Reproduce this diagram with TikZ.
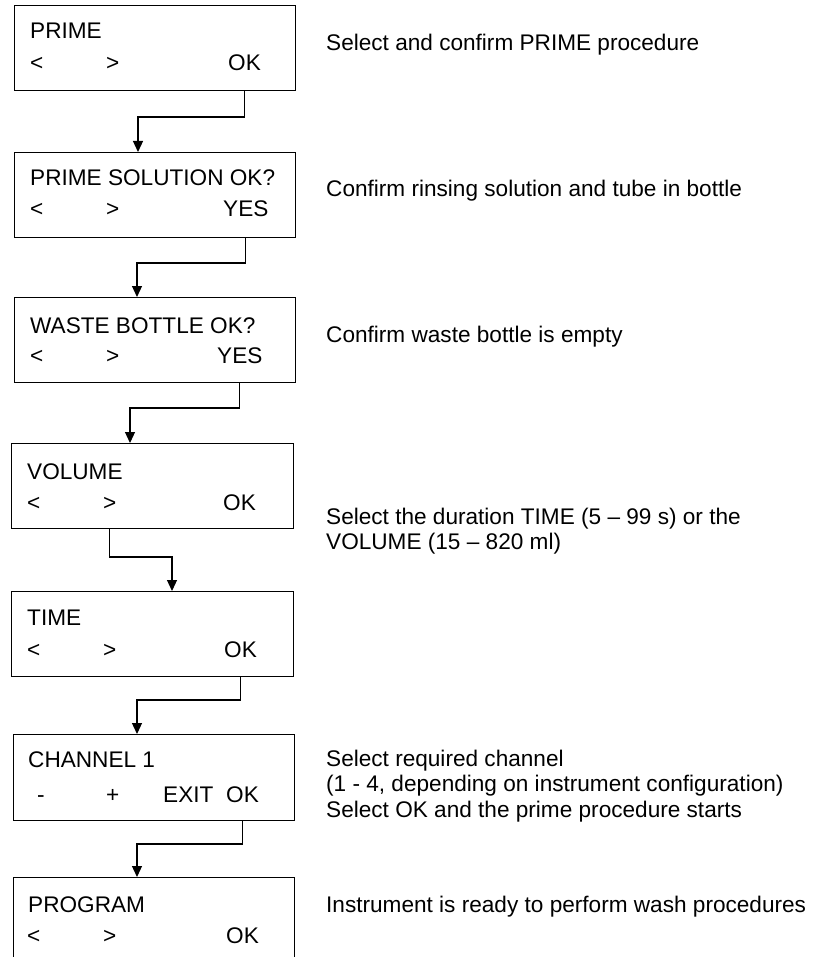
\documentclass[tikz,border=0pt]{standalone}
\usepackage{fontspec}
\setmainfont{Liberation Sans}
\usetikzlibrary{arrows.meta}

\begin{document}
\begin{tikzpicture}[x=1pt, y=-1pt,
  every node/.style={font=\fontsize{22.6}{25.5}\selectfont, inner sep=0pt},
  screen/.style={draw, line width=1.2pt, anchor=north west,
                 minimum width=281pt, minimum height=85pt},
  key/.style={anchor=base west},
  note/.style={anchor=base west},
  flow/.style={-{Triangle[length=11pt,width=10pt]}, line width=1.2pt}]
  \useasboundingbox (0,0) rectangle (814,957);
  % PRIME screen
  \node[screen] (s1) at (14,5) {};
  \node[key] (t1) at (30,39) {PRIME};
  \node[key] (lt1) at (30,71) {<};
  \node[key] (gt1) at (106,71) {>};
  \node[key] (ok1) at (228,71) {OK};
  \node[note] (n1) at (326,51) {Select and confirm PRIME procedure};
  % solution check
  \node[screen] (s2) at (14,152) {};
  \node[key] (t2) at (30,186) {PRIME SOLUTION OK?};
  \node[key] (lt2) at (30,217) {<};
  \node[key] (gt2) at (106,217) {>};
  \node[key] (yes2) at (223,217) {YES};
  \node[note] (n2) at (326,197) {Confirm rinsing solution and tube in bottle};
  % waste check
  \node[screen] (s3) at (14,297) {};
  \node[key] (t3) at (30,333) {WASTE BOTTLE OK?};
  \node[key] (lt3) at (30,363) {<};
  \node[key] (gt3) at (106,363) {>};
  \node[key] (yes3) at (217,363) {YES};
  \node[note] (n3) at (326,342) {Confirm waste bottle is empty};
  % VOLUME / TIME
  \node[screen, minimum width=282pt] (s4) at (11,443) {};
  \node[key] (t4) at (27,479) {VOLUME};
  \node[key] (lt4) at (27,510) {<};
  \node[key] (gt4) at (103,510) {>};
  \node[key] (ok4) at (223,510) {OK};
  \node[screen, minimum width=282pt] (s5) at (11,591) {};
  \node[key] (t5) at (27,625) {TIME};
  \node[key] (lt5) at (27,657) {<};
  \node[key] (gt5) at (103,657) {>};
  \node[key] (ok5) at (224,657) {OK};
  \node[note] (n4a) at (326,524) {Select the duration TIME (5 -- 99 s) or the};
  \node[note] (n4b) at (326,549) {VOLUME (15 -- 820 ml)};
  % channel
  \node[screen, minimum height=86pt] (s6) at (13,734) {};
  \node[key] (t6) at (28,767) {CHANNEL 1};
  \node[key] (mi6) at (37,802) {-};
  \node[key] (pl6) at (106,802) {+};
  \node[key] (ex6) at (163,802) {EXIT};
  \node[key] (ok6) at (226,802) {OK};
  \node[note] (n6a) at (326,766) {Select required channel};
  \node[note] (n6b) at (326,791) {(1 - 4, depending on instrument configuration)};
  \node[note] (n6c) at (326,817) {Select OK and the prime procedure starts};
  % PROGRAM screen (cut at the bottom)
  \node[screen] (s7) at (13,877) {};
  \node[key] (t7) at (28,912) {PROGRAM};
  \node[key] (lt7) at (27,943) {<};
  \node[key] (gt7) at (103,943) {>};
  \node[key] (ok7) at (226,943) {OK};
  \node[note] (n7) at (326,912) {Instrument is ready to perform wash procedures};
  % connectors
  \coordinate (k1) at (138,117);
  \coordinate (k2) at (137,263);
  \coordinate (k3) at (130,408);
  \coordinate (k4) at (172,557);
  \coordinate (k5) at (137,700);
  \coordinate (k6) at (137,844);
  \draw[flow] (ok1 |- s1.south) |- (k1) -- (k1 |- s2.north);
  \draw[flow] (yes2 |- s2.south) |- (k2) -- (k2 |- s3.north);
  \draw[flow] (yes3 |- s3.south) |- (k3) -- (k3 |- s4.north);
  \draw[flow] (gt4 |- s4.south) |- (k4) -- (k4 |- s5.north);
  \draw[flow] (ok5 |- s5.south) |- (k5) -- (k5 |- s6.north);
  \draw[flow] (ok6 |- s6.south) |- (k6) -- (k6 |- s7.north);
\end{tikzpicture}
\end{document}
